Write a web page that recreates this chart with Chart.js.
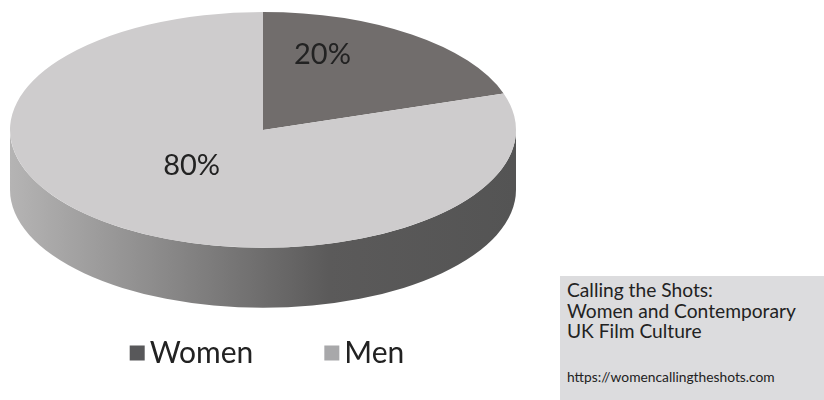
<!DOCTYPE html>
<html>
<head>
<meta charset="utf-8">
<script src="https://cdn.jsdelivr.net/npm/chart.js@4.4.1/dist/chart.umd.min.js"></script>
<style>
    html, body { margin: 0; padding: 0; background: #fff; }
    body { width: 824px; height: 400px; position: relative; overflow: hidden; font-family: Lato, sans-serif; color: #222; }
    #wrap { position: absolute; left: 0; top: 0; width: 526px; height: 400px; }
    #credit { position: absolute; left: 560px; top: 276px; width: 264px; height: 124px; background: #dcdcde; }
    #credit .title { position: absolute; left: 7px; top: 4px; font-size: 19.2px; line-height: 20.5px; }
    #credit .url { position: absolute; left: 7px; top: 93px; font-size: 13.8px; line-height: 16px; }
</style>
</head>
<body>
<div id="wrap"><canvas id="pie"></canvas></div>
<div id="credit">
    <div class="title">Calling the Shots:<br>Women and Contemporary<br>UK Film Culture</div>
    <div class="url">https://womencallingtheshots.com</div>
</div>
<script>
// data
const labels = ['Women', 'Men'];
const values = [20, 80];

// colours
const sliceColors = ['#716d6c', '#cecccd'];
const legendColors = ['#58585a', '#a8a8aa'];

const TILT = 0.466;   // ry / rx of the top face
const DEPTH = 0.237;  // wall height / rx
const LEGEND_Y = 353;

function shade(hex, f) {
    const n = parseInt(hex.slice(1), 16);
    const r = Math.round(((n >> 16) & 255) * f);
    const g = Math.round(((n >> 8) & 255) * f);
    const b = Math.round((n & 255) * f);
    return `rgb(${r},${g},${b})`;
}

// squash the pie into an ellipse and give it a side wall
const pie3d = {
    id: 'pie3d',
    beforeDatasetsDraw(chart) {
        const ctx = chart.ctx;
        const area = chart.chartArea;
        const meta = chart.getDatasetMeta(0);
        const rx = area.width / 2;
        const ry = rx * TILT;
        const cx = (area.left + area.right) / 2;
        const cy = area.top + ry;
        const depth = rx * DEPTH;
        chart.$pie = { cx, cy, rx, ry, depth };

        meta.data.forEach((arc, i) => {
            const { startAngle, endAngle } = arc.getProps(['startAngle', 'endAngle'], true);
            for (let k = -1; k <= 1; k++) {
                const lo = Math.max(startAngle, 2 * Math.PI * k);
                const hi = Math.min(endAngle, 2 * Math.PI * k + Math.PI);
                if (hi <= lo) continue;
                const grad = ctx.createLinearGradient(cx - rx, 0, cx + rx, 0);
                const base = sliceColors[i];
                grad.addColorStop(0, shade(base, 0.88));
                grad.addColorStop(0.32, shade(base, 0.66));
                grad.addColorStop(0.63, shade(base, 0.44));
                grad.addColorStop(1, shade(base, 0.41));
                ctx.beginPath();
                ctx.ellipse(cx, cy, rx, ry, 0, lo, hi, false);
                ctx.ellipse(cx, cy + depth, rx, ry, 0, hi, lo, true);
                ctx.closePath();
                ctx.fillStyle = grad;
                ctx.fill();
            }
        });

        const a0 = meta.data[0];
        ctx.save();
        ctx.translate(cx, cy);
        ctx.scale(rx / a0.outerRadius, ry / a0.outerRadius);
        ctx.translate(-a0.x, -a0.y);
    },
    afterDatasetsDraw(chart) {
        const ctx = chart.ctx;
        ctx.restore();
        const { cx, cy, rx, ry } = chart.$pie;
        const meta = chart.getDatasetMeta(0);
        const total = values.reduce((s, v) => s + v, 0);

        ctx.save();
        ctx.fillStyle = '#222';
        ctx.font = '29px Lato';
        ctx.textAlign = 'center';
        ctx.textBaseline = 'middle';
        meta.data.forEach((arc, i) => {
            const a = (arc.startAngle + arc.endAngle) / 2;
            const x = cx + rx * 0.44 * Math.cos(a) - 6;
            const y = cy - ry * 0.17 + ry * 0.58 * Math.sin(a);
            ctx.fillText(Math.round(values[i] / total * 100) + '%', x, y);
        });
        ctx.restore();
    },
    afterDraw(chart) {
        // legend
        const ctx = chart.ctx;
        const { cx } = chart.$pie;
        const box = 15, gap = 5, itemGap = 71;
        ctx.save();
        ctx.font = '30px Lato';
        ctx.textBaseline = 'middle';
        const widths = labels.map(l => ctx.measureText(l).width);
        let total = 0;
        widths.forEach((w, i) => { total += box + gap + w + (i < labels.length - 1 ? itemGap : 0); });
        let x = cx + 4 - total / 2;
        labels.forEach((l, i) => {
            ctx.fillStyle = legendColors[i];
            ctx.fillRect(x, LEGEND_Y - box / 2, box, box);
            ctx.fillStyle = '#222';
            ctx.fillText(l, x + box + gap, LEGEND_Y);
            x += box + gap + widths[i] + itemGap;
        });
        ctx.restore();
    }
};

new Chart(document.getElementById('pie'), {
    type: 'pie',
    data: {
        labels: labels,
        datasets: [{
            data: values,
            backgroundColor: sliceColors,
            borderWidth: 0,
            clip: false
        }]
    },
    options: {
        responsive: true,
        maintainAspectRatio: false,
        animation: false,
        events: [],
        layout: { padding: { left: 10, right: 10, top: 12, bottom: 0 } },
        plugins: {
            legend: { display: false },
            tooltip: { enabled: false }
        }
    },
    plugins: [pie3d]
});
</script>
</body>
</html>
